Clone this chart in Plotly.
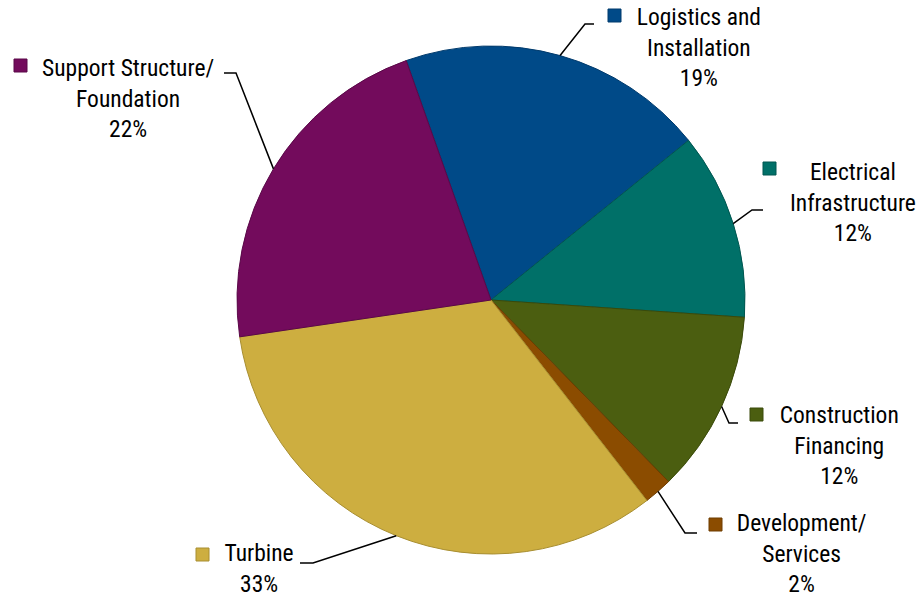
import math
import plotly.graph_objects as go

# ---- data ----
categories = ["Logistics and<br>Installation", "Electrical<br>Infrastructure",
              "Construction<br>Financing", "Development/<br>Services",
              "Turbine", "Support Structure/<br>Foundation"]
values = [19.6, 11.9, 11.6, 1.8, 33.2, 21.9]
pct_labels = ["19%", "12%", "12%", "2%", "33%", "22%"]

# ---- styles ----
colors = ["#004A88", "#007068", "#4B5E10", "#8B4C00", "#CDAE40", "#730B5C"]
edge_colors = ["#003A6C", "#005650", "#3A4A0A", "#6E3C00", "#A88E30", "#5A0848"]

W, H = 920, 598
CX, CY, R = 491, 300, 254
ROT = -19.5
FONT = "Roboto, Liberation Sans, sans-serif"
FS = 23.5

label_layout = [
    dict(tx=699, ty=47, key=(608, 9), elbow=(585, 24), end=(594, 24)),
    dict(tx=853, ty=202, key=(763, 162), elbow=(752, 210), end=(763, 210)),
    dict(tx=839, ty=446, key=(750, 408), elbow=(729, 423), end=(738, 423)),
    dict(tx=801, ty=553, key=(709, 518), elbow=(685, 533), end=(697, 533)),
    dict(tx=259, ty=568, key=(196, 548), elbow=(313, 563), end=(300, 563)),
    dict(tx=128, ty=98, key=(14, 59), elbow=(236, 73), end=(224, 73)),
]

fig = go.Figure(go.Pie(
    labels=[c.replace("<br>", " ") for c in categories],
    values=values, sort=False, direction="clockwise", rotation=ROT,
    textinfo="none", hoverinfo="label+percent",
    marker=dict(colors=colors, line=dict(color=edge_colors, width=1)),
    domain=dict(x=[(CX - R) / W, (CX + R) / W], y=[1 - (CY + R) / H, 1 - (CY - R) / H]),
    showlegend=False,
))

def px(x, y):
    return x / W, 1 - y / H

total = sum(values)
cum = 0.0
shapes, annotations = [], []
KS = 13
for i, v in enumerate(values):
    mid = ROT + (cum + v / 2) / total * 360.0
    cum += v
    a = math.radians(mid)
    sx, sy = CX + R * math.sin(a), CY - R * math.cos(a)
    L = label_layout[i]
    p0, p1, p2 = px(sx, sy), px(*L["elbow"]), px(*L["end"])
    shapes.append(dict(type="path", xref="paper", yref="paper",
                       path=f"M {p0[0]},{p0[1]} L {p1[0]},{p1[1]} L {p2[0]},{p2[1]}",
                       line=dict(color="black", width=1.5)))
    kx, ky = L["key"]
    k0, k1 = px(kx, ky), px(kx + KS, ky + KS)
    shapes.append(dict(type="rect", xref="paper", yref="paper",
                       x0=k0[0], y0=k1[1], x1=k1[0], y1=k0[1],
                       fillcolor=colors[i], line=dict(color=edge_colors[i], width=1)))
    t = px(L["tx"], L["ty"])
    annotations.append(dict(xref="paper", yref="paper", x=t[0], y=t[1],
                            xanchor="center", yanchor="middle", align="center",
                            showarrow=False, text=categories[i] + "<br>" + pct_labels[i],
                            font=dict(family=FONT, size=FS, color="black")))

fig.update_layout(width=W, height=H, margin=dict(l=0, r=0, t=0, b=0),
                  paper_bgcolor="white", plot_bgcolor="white",
                  shapes=shapes, annotations=annotations)

post = """
document.body.style.margin='0';
document.querySelectorAll('text.annotation-text').forEach(function(t){
  t.style.fontStretch='condensed';
});
"""
fig.write_html("out.html", post_script=post, config={"displayModeBar": False})
